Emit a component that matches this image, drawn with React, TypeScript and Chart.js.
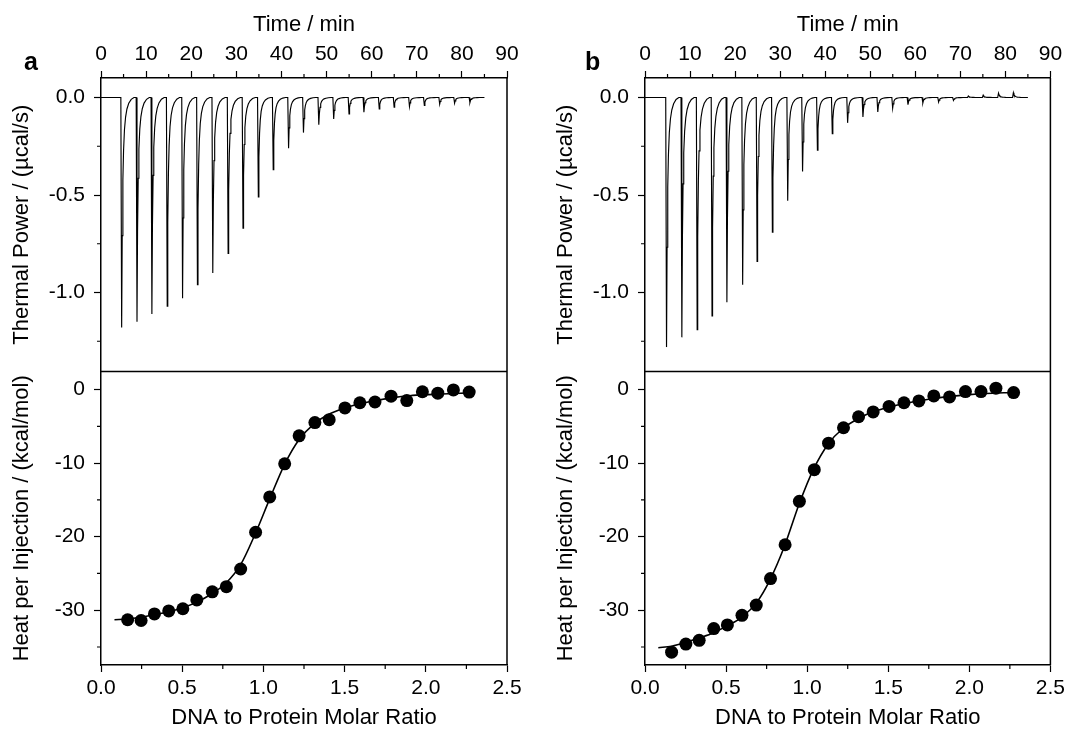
import React, { useEffect, useRef } from "react";
import { Chart, registerables } from "chart.js";

Chart.register(...registerables);

const FONT = "'Liberation Sans', Arial, Helvetica, sans-serif";

// ---------- tick labels ----------
const timeTicks = [0, 10, 20, 30, 40, 50, 60, 70, 80, 90];
const timeMinorTicks = [5, 15, 25, 35, 45, 55, 65, 75, 85];
const ratioTicks = [0, 0.5, 1.0, 1.5, 2.0, 2.5];
const ratioMinorTicks = [0.25, 0.75, 1.25, 1.75, 2.25];
const powerTicks = [-1.0, -0.5, 0.0];
const powerMinorTicks = [-1.25, -0.75, -0.25];
const heatTicks = [-30, -20, -10, 0];
const heatMinorTicks = [-35, -25, -15, -5];

// ---------- raw thermogram: injection times (min) and peak extremes (µcal/s) ----------
const injTimesA = [4.4, 7.8, 11.1, 14.5, 17.9, 21.2, 24.6, 28.0, 31.3, 34.7, 38.0, 41.4, 44.7, 48.1, 51.4, 54.8, 58.1, 61.5, 64.8, 68.2, 71.5, 74.9, 78.2, 81.6];
const peakMinA = [-1.18, -1.15, -1.11, -1.07, -1.03, -0.96, -0.9, -0.8, -0.67, -0.51, -0.37, -0.26, -0.18, -0.14, -0.11, -0.084, -0.075, -0.059, -0.049, -0.046, -0.041, -0.034, -0.029, -0.026];

const injTimesB = [4.6, 8.0, 11.4, 14.7, 18.0, 21.5, 24.7, 28.1, 31.5, 34.8, 38.1, 41.4, 44.8, 48.2, 51.5, 54.8, 58.2, 61.5, 65.0, 68.3, 71.6, 74.9, 78.3, 81.6];
const peakMinB = [-1.28, -1.23, -1.19, -1.12, -1.05, -0.96, -0.84, -0.69, -0.53, -0.38, -0.27, -0.185, -0.13, -0.1, -0.074, -0.054, -0.037, -0.028, -0.023, -0.015, 0.008, 0.012, 0.022, 0.025];

// shape of a single injection peak: time after injection (min), fraction of peak extreme
const peakShapeDt = [0, 0.18, 0.3, 0.45, 0.6, 0.8, 1.05, 1.35, 1.75, 2.3, 2.9];
const peakShapeFrac = [0, 1, 0.6, 0.36, 0.23, 0.14, 0.085, 0.05, 0.025, 0.008, 0];
const traceStart = 0;
const traceEnd = 85;

// ---------- integrated heats ----------
const ratioA = [0.164, 0.247, 0.329, 0.417, 0.504, 0.59, 0.685, 0.772, 0.86, 0.952, 1.039, 1.131, 1.22, 1.317, 1.405, 1.502, 1.594, 1.687, 1.786, 1.883, 1.979, 2.074, 2.17, 2.267];
const heatA = [-31.3, -31.4, -30.5, -30.1, -29.8, -28.6, -27.5, -26.8, -24.4, -19.4, -14.6, -10.1, -6.3, -4.5, -4.1, -2.5, -1.8, -1.7, -0.9, -1.5, -0.3, -0.5, -0.05, -0.35];
const fitXA = [0.083, 0.164, 0.247, 0.33, 0.42, 0.5, 0.59, 0.68, 0.77, 0.86, 0.95, 1.04, 1.13, 1.22, 1.31, 1.4, 1.5, 1.6, 1.7, 1.8, 1.9, 2.0, 2.1, 2.27];
const fitYA = [-31.3, -31.2, -30.95, -30.6, -30.2, -29.7, -28.9, -27.8, -26.3, -23.8, -19.6, -14.8, -10.2, -6.8, -4.7, -3.4, -2.5, -1.9, -1.45, -1.1, -0.85, -0.7, -0.6, -0.45];

const ratioB = [0.164, 0.252, 0.334, 0.424, 0.508, 0.598, 0.686, 0.774, 0.864, 0.952, 1.044, 1.132, 1.224, 1.317, 1.407, 1.505, 1.597, 1.689, 1.781, 1.878, 1.976, 2.072, 2.164, 2.273];
const heatB = [-35.7, -34.6, -34.1, -32.5, -32.0, -30.7, -29.3, -25.7, -21.1, -15.2, -10.9, -7.3, -5.2, -3.7, -3.05, -2.3, -1.8, -1.55, -0.87, -1.0, -0.28, -0.28, 0.18, -0.41];
const fitXB = [0.082, 0.164, 0.25, 0.33, 0.42, 0.5, 0.6, 0.69, 0.77, 0.86, 0.95, 1.04, 1.13, 1.22, 1.32, 1.41, 1.5, 1.6, 1.7, 1.8, 1.9, 2.0, 2.1, 2.27];
const fitYB = [-35.1, -34.9, -34.4, -33.8, -33.1, -32.2, -30.9, -28.9, -25.9, -21.3, -15.6, -10.8, -7.4, -5.3, -3.9, -3.0, -2.4, -1.9, -1.5, -1.15, -0.9, -0.7, -0.55, -0.4];

const MAJOR = 7;
const MINOR = 4;

function buildTrace(times: number[], mins: number[]) {
  const pts: { x: number; y: number }[] = [{ x: traceStart, y: 0 }];
  times.forEach((t, i) => {
    peakShapeDt.forEach((dt, k) => pts.push({ x: t + dt, y: mins[i] * peakShapeFrac[k] }));
  });
  pts.push({ x: traceEnd, y: 0 });
  return pts;
}

const framePlugin = {
  id: "frame",
  afterDraw(chart: any) {
    const { ctx, chartArea: a, scales } = chart;
    ctx.save();
    ctx.strokeStyle = "#000";
    ctx.lineWidth = 1.5;
    ctx.beginPath();
    ctx.moveTo(a.right, a.top);
    ctx.lineTo(a.right, a.bottom);
    const yDiv = scales.yTop.bottom;
    ctx.moveTo(a.left, yDiv);
    ctx.lineTo(a.right, yDiv);
    ctx.stroke();
    ctx.lineWidth = 1.2;
    ctx.beginPath();
    timeMinorTicks.forEach((v) => {
      const x = scales.xTop.getPixelForValue(v);
      ctx.moveTo(x, a.top);
      ctx.lineTo(x, a.top - MINOR);
    });
    ratioMinorTicks.forEach((v) => {
      const x = scales.xBot.getPixelForValue(v);
      ctx.moveTo(x, a.bottom);
      ctx.lineTo(x, a.bottom + MINOR);
    });
    powerMinorTicks.forEach((v) => {
      const y = scales.yTop.getPixelForValue(v);
      ctx.moveTo(a.left, y);
      ctx.lineTo(a.left - MINOR, y);
    });
    heatMinorTicks.forEach((v) => {
      const y = scales.yBot.getPixelForValue(v);
      ctx.moveTo(a.left, y);
      ctx.lineTo(a.left - MINOR, y);
    });
    ctx.stroke();
    ctx.restore();
  },
};

const tickFont = { family: FONT, size: 21 };
const titleFont = { family: FONT, size: 22, lineHeight: 1 };
const gridOpts = {
  display: true,
  drawOnChartArea: false,
  drawTicks: true,
  tickLength: MAJOR,
  tickWidth: 1.2,
  tickColor: "#000",
  color: "#000",
};
const borderOpts = { display: true, color: "#000", width: 1.5 };

interface PanelProps {
  left: number;
  width: number;
  padRight: number;
  label: string;
  labelLeft: number;
  times: number[];
  mins: number[];
  ratio: number[];
  heat: number[];
  fitX: number[];
  fitY: number[];
}

function Panel(p: PanelProps) {
  const ref = useRef<HTMLCanvasElement>(null);
  useEffect(() => {
    const trace = buildTrace(p.times, p.mins);
    const pts = p.ratio.map((x, i) => ({ x, y: p.heat[i] }));
    const fit = p.fitX.map((x, i) => ({ x, y: p.fitY[i] }));
    const chart = new Chart(ref.current as HTMLCanvasElement, {
      type: "line",
      data: {
        datasets: [
          {
            data: pts,
            xAxisID: "xBot",
            yAxisID: "yBot",
            showLine: false,
            pointRadius: 6.5,
            pointHoverRadius: 6.5,
            pointBackgroundColor: "#000",
            pointBorderColor: "#000",
            pointBorderWidth: 0,
            order: 0,
          } as any,
          {
            data: fit,
            xAxisID: "xBot",
            yAxisID: "yBot",
            borderColor: "#000",
            borderWidth: 1.6,
            pointRadius: 0,
            cubicInterpolationMode: "monotone",
            order: 1,
          },
          {
            data: trace,
            xAxisID: "xTop",
            yAxisID: "yTop",
            borderColor: "#000",
            borderWidth: 1.15,
            pointRadius: 0,
            tension: 0,
            order: 2,
          },
        ],
      },
      options: {
        responsive: false,
        maintainAspectRatio: false,
        animation: false,
        events: [],
        layout: { padding: { left: 0, top: 0, bottom: 0, right: p.padRight } },
        plugins: { legend: { display: false }, tooltip: { enabled: false } },
        scales: {
          xTop: {
            type: "linear",
            position: "top",
            min: 0,
            max: 90,
            afterBuildTicks: (s: any) => {
              s.ticks = timeTicks.map((v) => ({ value: v }));
            },
            afterFit: (s: any) => {
              s.height = 78;
            },
            ticks: {
              font: tickFont,
              color: "#000",
              padding: 4,
              maxRotation: 0,
              autoSkip: false,
              callback: (v: any) => String(v),
            },
            title: { display: true, text: "Time / min", font: titleFont, color: "#000", padding: { top: 14, bottom: 0 } },
            grid: gridOpts,
            border: borderOpts,
          },
          xBot: {
            type: "linear",
            position: "bottom",
            min: 0,
            max: 2.5,
            afterBuildTicks: (s: any) => {
              s.ticks = ratioTicks.map((v) => ({ value: v }));
            },
            afterFit: (s: any) => {
              s.height = 64;
            },
            ticks: {
              font: tickFont,
              color: "#000",
              padding: 4,
              maxRotation: 0,
              autoSkip: false,
              callback: (v: any) => Number(v).toFixed(1),
            },
            title: { display: true, text: "DNA to Protein Molar Ratio", font: titleFont, color: "#000", padding: { top: 0, bottom: 0 } },
            grid: gridOpts,
            border: borderOpts,
          },
          yBot: {
            type: "linear",
            position: "left",
            stack: "left",
            stackWeight: 1,
            weight: 1,
            min: -37.45,
            max: 2.45,
            afterBuildTicks: (s: any) => {
              s.ticks = heatTicks.map((v) => ({ value: v }));
            },
            afterFit: (s: any) => {
              s.width = 101;
            },
            ticks: { font: tickFont, color: "#000", padding: 9, autoSkip: false, callback: (v: any) => String(v) },
            title: { display: true, text: "Heat per Injection / (kcal/mol)", font: titleFont, color: "#000", padding: { top: 11, bottom: 0 } },
            grid: gridOpts,
            border: borderOpts,
          },
          yTop: {
            type: "linear",
            position: "left",
            stack: "left",
            stackWeight: 1,
            weight: 2,
            min: -1.405,
            max: 0.1,
            afterBuildTicks: (s: any) => {
              s.ticks = powerTicks.map((v) => ({ value: v }));
            },
            afterFit: (s: any) => {
              s.width = 101;
            },
            ticks: { font: tickFont, color: "#000", padding: 9, autoSkip: false, callback: (v: any) => Number(v).toFixed(1) },
            title: { display: true, text: "Thermal Power / (µcal/s)", font: titleFont, color: "#000", padding: { top: 11, bottom: 0 } },
            grid: gridOpts,
            border: borderOpts,
          },
        } as any,
      },
      plugins: [framePlugin],
    });
    return () => chart.destroy();
  }, []);
  return (
    <>
      <canvas
        ref={ref}
        width={p.width}
        height={729}
        style={{ position: "absolute", left: p.left, top: 0, width: p.width, height: 729 }}
      />
      <div
        style={{
          position: "absolute",
          left: p.labelLeft,
          top: 49,
          fontFamily: FONT,
          fontWeight: "bold",
          fontSize: 25,
          lineHeight: "25px",
          color: "#000",
        }}
      >
        {p.label}
      </div>
    </>
  );
}

export default function App() {
  return (
    <div style={{ position: "absolute", left: 0, top: 0, width: 1069, height: 729, overflow: "hidden", background: "#fff" }}>
      <Panel
        left={0}
        width={540}
        padRight={33}
        label="a"
        labelLeft={24}
        times={injTimesA}
        mins={peakMinA}
        ratio={ratioA}
        heat={heatA}
        fitX={fitXA}
        fitY={fitYA}
      />
      <Panel
        left={544}
        width={525}
        padRight={18}
        label="b"
        labelLeft={585}
        times={injTimesB}
        mins={peakMinB}
        ratio={ratioB}
        heat={heatB}
        fitX={fitXB}
        fitY={fitYB}
      />
    </div>
  );
}
